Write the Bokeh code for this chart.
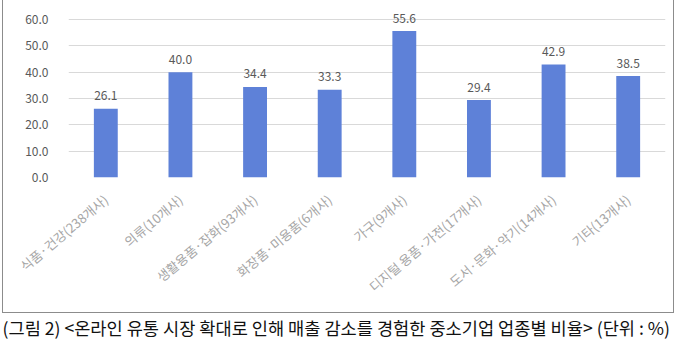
import math
from bokeh.plotting import figure
from bokeh.layouts import column
from bokeh.models import ColumnDataSource, FactorRange, Range1d, Label, CustomJSTickFormatter
from bokeh.embed import file_html
from bokeh.resources import INLINE
from bokeh.core.properties import value

categories = ["식품·건강(238개사)", "의류(10개사)", "생활용품·잡화(93개사)", "화장품·미용품(6개사)",
              "가구(9개사)", "디지털 용품·가전(17개사)", "도서·문화·악기(14개사)", "기타(13개사)"]
values = [26.1, 40.0, 34.4, 33.3, 55.6, 29.4, 42.9, 38.5]
y_ticks = [0, 10, 20, 30, 40, 50, 60]
caption = "(그림 2) <온라인 유통 시장 확대로 인해 매출 감소를 경험한 중소기업 업종별 비율> (단위 : %)"

FONT = "Noto Sans CJK KR"
BORDER = "1px solid #8C8C8C"

src = ColumnDataSource(dict(cat=categories, val=values, lbl=[f"{v:.1f}" for v in values]))

p = figure(width=672, height=313, output_backend="svg", toolbar_location=None,
           x_range=FactorRange(*categories, range_padding=0), y_range=Range1d(0, 65.3),
           min_border_left=65, min_border_right=10, min_border_top=5, min_border_bottom=136,
           styles={"border-left": BORDER, "border-right": BORDER, "border-bottom": BORDER,
                   "margin-left": "2px"})
p.outline_line_color = None
p.frame_align = False

p.vbar(x="cat", top="val", width=0.32, source=src, fill_color="#5E81D8", line_color=None)
p.text(x="cat", y="val", text="lbl", source=src, text_align="center", text_baseline="alphabetic",
       y_offset=-13, text_font=value(FONT), text_font_size="12px", text_color="#595959")

p.xgrid.grid_line_color = None
p.ygrid.grid_line_color = "#D9D9D9"
p.yaxis.ticker = y_ticks
p.yaxis.formatter = CustomJSTickFormatter(code="return tick.toFixed(1);")
p.yaxis.axis_line_color = None
p.yaxis.major_tick_line_color = None
p.yaxis.minor_tick_line_color = None
p.yaxis.major_label_standoff = 14
p.yaxis.major_label_text_font = FONT
p.yaxis.major_label_text_font_size = "12px"
p.yaxis.major_label_text_color = "#595959"

p.xaxis.axis_line_color = None
p.xaxis.major_tick_line_color = None
p.xaxis.major_label_orientation = math.radians(40)
p.xaxis.major_label_standoff = 14
p.xaxis.major_label_text_font = FONT
p.xaxis.major_label_text_font_size = "13px"
p.xaxis.major_label_text_color = "#A6A6A6"

c = figure(width=680, height=30, output_backend="svg", toolbar_location=None,
           x_range=Range1d(0, 680), y_range=Range1d(0, 30), min_border=0,
           x_axis_location=None, y_axis_location=None)
c.outline_line_color = None
c.frame_align = False
c.grid.visible = False
c.add_layout(Label(x=2, y=16, text=caption, text_align="left", text_baseline="middle",
                   text_font=FONT, text_font_size="17.6px", text_color="#111111"))

layout = column(p, c, spacing=0)
open("out.html", "w").write(file_html(layout, INLINE))
